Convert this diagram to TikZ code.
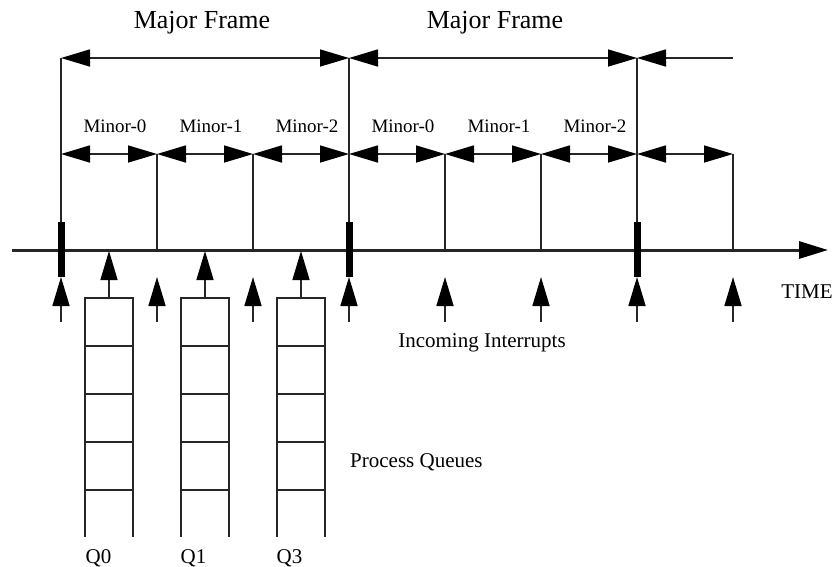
\documentclass[tikz,border=0pt]{standalone}
\usepackage{fontspec}
\setmainfont{Liberation Serif}
\usetikzlibrary{arrows.meta}
\begin{document}
\begin{tikzpicture}[x=1pt,y=-1pt,
  ln/.style={line width=1.6pt, draw=black!85},
  tri/.tip={Triangle[length=29pt,width=17pt,color=black,fill=black]},
  tip/.style={-tri},
  dtip/.style={tri-tri},
  ltip/.style={tri-},
  majlbl/.style={anchor=base, font=\fontsize{26}{30}\selectfont, inner sep=0pt},
  minlbl/.style={anchor=base, font=\fontsize{19}{22}\selectfont, inner sep=0pt},
  lbl/.style={anchor=base, font=\fontsize{21}{25}\selectfont, inner sep=0pt},
  bar/.style={fill=black, draw=none},
  qcell/.style={ln}
]
\useasboundingbox (0,0) rectangle (837,566);
% coordinates along time axis
\foreach \i/\x in {0/61,1/157,2/253,3/349,4/445,5/541,6/637,7/733}{
  \coordinate (maj\i) at (\x,58);
  \coordinate (min\i) at (\x,154);
  \coordinate (ax\i) at (\x,250);
  \coordinate (btl\i) at (\x-3.5,222);
  \coordinate (btr\i) at (\x+3.5,277);
  \coordinate (bt\i) at (\x,277);
  \coordinate (tl\i) at (\x,322);
}
% axis
\coordinate (axs) at (12,250);
\coordinate (axe) at (828,250);
\draw[line width=3pt, draw=black!85, tip] (axs) -- (axe);
% major frame arrows
\draw[ln, dtip] (maj0) -- (maj3);
\draw[ln, dtip] (maj3) -- (maj6);
\draw[ln, ltip] (maj6) -- (maj7);
% minor arrows
\foreach \a/\b in {0/1,1/2,2/3,3/4,4/5,5/6,6/7}{
  \draw[ln, dtip] (min\a) -- (min\b);
}
% verticals
\foreach \i in {0,3,6}{ \draw[ln] (maj\i) -- (ax\i); }
\foreach \i in {1,2,4,5,7}{ \draw[ln] (min\i) -- (ax\i); }
% bars at major frame boundaries
\foreach \i in {0,3,6}{ \fill[bar] (btl\i) rectangle (btr\i); }
% interrupt arrows
\foreach \i in {0,...,7}{ \draw[ln, tip] (tl\i) -- (bt\i); }
% labels
\node[majlbl] (mf1) at (202,28) {Major Frame};
\node[majlbl] (mf2) at (495,28) {Major Frame};
\node[minlbl] (m0a) at (115,132) {Minor-0};
\node[minlbl] (m1a) at (211,132) {Minor-1};
\node[minlbl] (m2a) at (307,132) {Minor-2};
\node[minlbl] (m0b) at (403,132) {Minor-0};
\node[minlbl] (m1b) at (499,132) {Minor-1};
\node[minlbl] (m2b) at (595,132) {Minor-2};
\node[lbl] (time) at (807,298) {TIME};
\node[lbl] (inc) at (482,347) {Incoming Interrupts};
\node[lbl, anchor=base west] (pq) at (350,467) {Process Queues};
% process queues
\foreach \n/\c/\lx/\lab in {q0/109/98.5/Q0, q1/205/193.5/Q1, q3/301/289.5/Q3}{
  \coordinate (\n top) at (\c,298);
  \coordinate (\n ax) at (\c,251);
  \draw[qcell] (\c-24,537) -- (\c-24,298) -- (\c+24,298) -- (\c+24,537);
  \foreach \y in {346,394,442,490}{ \draw[qcell] (\c-24,\y) -- (\c+24,\y); }
  \draw[ln, tip] (\n top) -- (\n ax);
  \node[lbl] (\n lbl) at (\lx,563) {\lab};
}
\end{tikzpicture}
\end{document}
